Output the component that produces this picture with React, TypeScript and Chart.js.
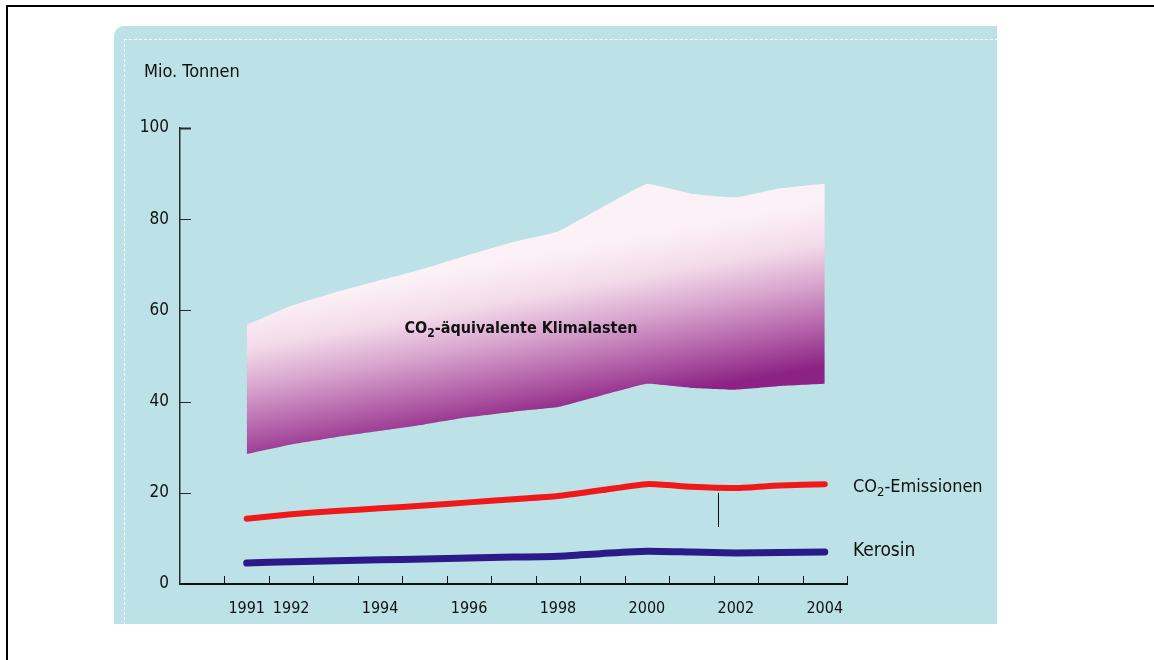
import React, { useEffect, useRef } from 'react';
import { Chart, registerables } from 'chart.js';

Chart.register(...registerables);

// ---- data ----
const categories = ['1990', '1991', '1992', '1993', '1994', '1995', '1996', '1997', '1998', '1999', '2000', '2001', '2002', '2003', '2004'];
const shownLabels = ['1991', '1992', '1994', '1996', '1998', '2000', '2002', '2004'];
const dataYears = ['1991', '1992', '1993', '1994', '1995', '1996', '1997', '1998', '1999', '2000', '2001', '2002', '2003', '2004'];
const co2Emissionen = [14.3, 15.3, 16.0, 16.6, 17.2, 17.9, 18.6, 19.3, 20.6, 21.9, 21.3, 21.05, 21.6, 21.9];
const kerosin = [4.6, 4.9, 5.1, 5.3, 5.5, 5.7, 5.9, 6.1, 6.7, 7.2, 7.0, 6.8, 6.9, 7.0];
const klimaUpper = [56.8, 61.0, 64.0, 66.6, 69.2, 72.2, 75.0, 77.3, 82.6, 87.7, 85.6, 84.8, 86.8, 87.8];
const klimaLower = [28.5, 30.6, 32.2, 33.6, 35.0, 36.6, 37.8, 38.8, 41.4, 43.9, 43.0, 42.6, 43.4, 43.9];
const yTickValues = [0, 20, 40, 60, 80, 100];
const leaderYear = 2001.6;
const leaderRange = [12.5, 20.0];

const FONT = "'Liberation Sans Narrow', 'Arial Narrow', 'DejaVu Sans Condensed', 'Roboto Condensed', Roboto, 'Liberation Sans', sans-serif";

const toPoints = (vals: number[]) => vals.map((v, i) => ({ x: dataYears[i], y: v }));

function drawSubText(ctx: CanvasRenderingContext2D, parts: [string, boolean][], x: number, y: number, size: number, weight: string, align: 'left' | 'center') {
  const subSize = Math.round(size * 0.72);
  let total = 0;
  const widths = parts.map(([t, sub]) => {
    ctx.font = `${weight} ${sub ? subSize : size}px ${FONT}`;
    const w = ctx.measureText(t).width;
    total += w;
    return w;
  });
  let cx = align === 'center' ? x - total / 2 : x;
  parts.forEach(([t, sub], i) => {
    ctx.font = `${weight} ${sub ? subSize : size}px ${FONT}`;
    ctx.textAlign = 'left';
    ctx.textBaseline = 'middle';
    ctx.fillText(t, cx, sub ? y + size * 0.3 : y);
    cx += widths[i];
  });
}

const decorPlugin = {
  id: 'decor',
  afterDraw(chart: any) {
    const { ctx, chartArea, scales } = chart;
    const xs = scales.x;
    const ys = scales.y;
    ctx.save();
    // y tick marks pointing inward
    ctx.strokeStyle = '#2a2a2a';
    yTickValues.forEach((v) => {
      if (v === 0) return;
      const py = Math.round(ys.getPixelForValue(v)) + 0.5;
      ctx.lineWidth = v === 100 ? 2 : 1;
      ctx.beginPath();
      ctx.moveTo(chartArea.left, py);
      ctx.lineTo(chartArea.left + 11, py);
      ctx.stroke();
    });
    // x tick marks pointing upward, between categories
    ctx.strokeStyle = '#111';
    ctx.lineWidth = 1;
    for (let i = 1; i <= categories.length; i++) {
      const px = Math.round(xs.getPixelForValue(i - 0.5)) + 0.5;
      ctx.beginPath();
      ctx.moveTo(px, chartArea.bottom);
      ctx.lineTo(px, chartArea.bottom - 8);
      ctx.stroke();
    }
    // leader line
    const lx = Math.round(xs.getPixelForValue(leaderYear - Number(categories[0]))) + 0.5;
    ctx.strokeStyle = '#111';
    ctx.lineWidth = 1;
    ctx.beginPath();
    ctx.moveTo(lx, ys.getPixelForValue(leaderRange[0]));
    ctx.lineTo(lx, ys.getPixelForValue(leaderRange[1]));
    ctx.stroke();

    // texts
    ctx.fillStyle = '#111';
    ctx.font = `18px ${FONT}`;
    ctx.textAlign = 'left';
    ctx.textBaseline = 'middle';
    ctx.fillText('Mio. Tonnen', 144, 72);
    drawSubText(ctx, [['CO', false], ['2', true], ['-äquivalente Klimalasten', false]], 521, 329, 16, 'bold', 'center');
    drawSubText(ctx, [['CO', false], ['2', true], ['-Emissionen', false]], 853, 487, 18, 'normal', 'left');
    ctx.font = `19px ${FONT}`;
    ctx.fillText('Kerosin', 853, 551);
    ctx.restore();
  },
};

function bandGradient(context: any) {
  const chart = context.chart;
  const { chartArea, scales } = chart;
  if (!chartArea) return 'rgba(0,0,0,0)';
  const xs = scales.x;
  const ys = scales.y;
  const n = dataYears.length - 1;
  const x0 = xs.getPixelForValue(dataYears[0]);
  const x1 = xs.getPixelForValue(dataYears[n]);
  const u0 = ys.getPixelForValue(klimaUpper[0]);
  const u1 = ys.getPixelForValue(klimaUpper[n]);
  const l0 = ys.getPixelForValue(klimaLower[0]);
  const l1 = ys.getPixelForValue(klimaLower[n]);
  const s = ((u1 - u0) + (l1 - l0)) / 2 / (x1 - x0);
  const xm = (x0 + x1) / 2;
  const yu = (u0 + u1) / 2;
  const yl = (l0 + l1) / 2;
  const norm = Math.sqrt(1 + s * s);
  const dist = (yl - yu) / norm;
  const dx = -s / norm;
  const dy = 1 / norm;
  const g = chart.ctx.createLinearGradient(xm, yu, xm + dx * dist, yu + dy * dist);
  g.addColorStop(0, '#fcf1f7');
  g.addColorStop(0.25, '#f3dbea');
  g.addColorStop(0.5, '#d7a3cd');
  g.addColorStop(0.78, '#b05ca6');
  g.addColorStop(1, '#8c2384');
  return g;
}

export default function App() {
  const canvasRef = useRef<HTMLCanvasElement | null>(null);

  useEffect(() => {
    if (!canvasRef.current) return;
    const chart = new Chart(canvasRef.current, {
      type: 'line',
      data: {
        labels: categories,
        datasets: [
          {
            label: 'CO2-Emissionen',
            data: toPoints(co2Emissionen),
            borderColor: '#f01818',
            borderWidth: 6,
            borderCapStyle: 'round',
            borderJoinStyle: 'round',
            pointRadius: 0,
            tension: 0.2,
            fill: false,
          },
          {
            label: 'Kerosin',
            data: toPoints(kerosin),
            borderColor: '#2c1a8a',
            borderWidth: 7,
            borderCapStyle: 'round',
            borderJoinStyle: 'round',
            pointRadius: 0,
            tension: 0.2,
            fill: false,
          },
          {
            label: 'Klimalasten oben',
            data: toPoints(klimaUpper),
            borderWidth: 0,
            borderColor: 'rgba(0,0,0,0)',
            backgroundColor: bandGradient,
            pointRadius: 0,
            tension: 0.1,
            fill: '+1',
          },
          {
            label: 'Klimalasten unten',
            data: toPoints(klimaLower),
            borderWidth: 0,
            borderColor: 'rgba(0,0,0,0)',
            pointRadius: 0,
            tension: 0.1,
            fill: false,
          },
        ],
      },
      options: {
        responsive: false,
        animation: false,
        layout: { padding: { left: 120, top: 128, right: 307, bottom: 36 } },
        plugins: { legend: { display: false }, tooltip: { enabled: false } },
        scales: {
          x: {
            type: 'category',
            offset: true,
            afterFit: (scale: any) => { scale.height = 40; },
            grid: { display: true, offset: true, drawOnChartArea: false, drawTicks: false },
            border: { display: true, color: '#111', width: 2 },
            ticks: {
              autoSkip: false,
              maxRotation: 0,
              padding: 15,
              color: '#111',
              font: { family: FONT, size: 16 },
              callback: function (this: any, value: any) {
                const lab = this.getLabelForValue(value);
                return shownLabels.includes(lab) ? lab : '';
              },
            },
          },
          y: {
            type: 'linear',
            min: 0,
            max: 100,
            afterFit: (scale: any) => { scale.width = 60; },
            grid: { display: true, drawOnChartArea: false, drawTicks: false },
            border: { display: true, color: '#2a2a2a', width: 1.5 },
            ticks: {
              stepSize: 20,
              padding: 11,
              color: '#111',
              font: { family: FONT, size: 17 },
            },
          },
        },
      },
      plugins: [decorPlugin],
    } as any);
    return () => chart.destroy();
  }, []);

  return (
    <div style={{ position: 'absolute', left: 0, top: 0, width: 1154, height: 660, background: '#fff', overflow: 'hidden' }}>
      <div style={{ position: 'absolute', left: 6, top: 5, width: 1300, height: 800, borderTop: '2px solid #000', borderLeft: '2px solid #000' }} />
      <div style={{ position: 'absolute', left: 114, top: 26, width: 883, height: 598, background: '#bce2e8', borderTopLeftRadius: 10 }} />
      <div style={{ position: 'absolute', left: 124, top: 39, width: 873, height: 585, borderTop: '1px dashed #ffffff', borderLeft: '1px dashed #ffffff' }} />
      <canvas ref={canvasRef} width={1154} height={660} style={{ position: 'absolute', left: 0, top: 0 }} />
    </div>
  );
}
